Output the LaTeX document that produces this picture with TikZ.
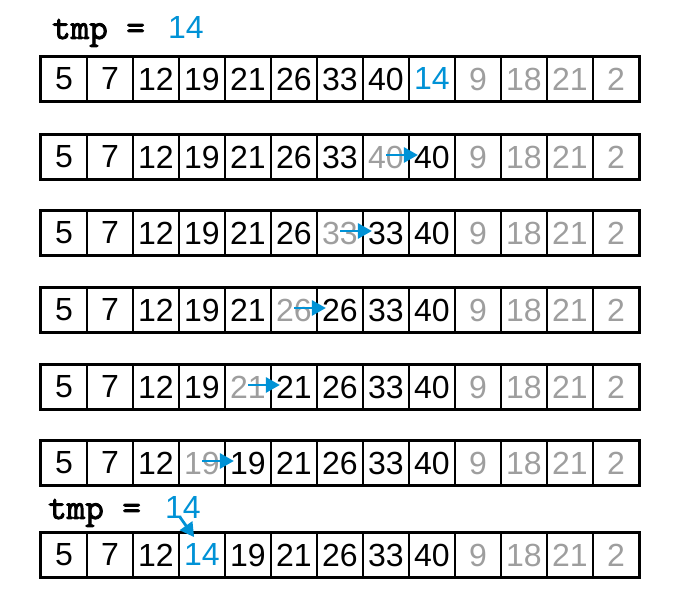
\documentclass[tikz,border=0pt]{standalone}
\usepackage{fontspec}
\setmainfont{Liberation Sans}
\newfontfamily\tmpfont[AutoFakeBold=2.5]{Latin Modern Mono}
\usetikzlibrary{arrows.meta}
\definecolor{tmpblue}{RGB}{0,146,214}
\definecolor{oldgray}{RGB}{158,158,158}
\tikzset{>={Triangle[length=14pt,width=15pt]}}
\tikzset{
  cell/.style={draw, line width=1.8pt, minimum width=46pt, minimum height=44pt,
    inner sep=0pt, font=\fontsize{32}{32}\selectfont},
  tmplabel/.style={anchor=base west, inner sep=0pt, font=\tmpfont\bfseries\fontsize{36}{36}\selectfont},
  tmpvalue/.style={anchor=base west, inner sep=0pt, text=tmpblue, font=\fontsize{32}{32}\selectfont},
  shift arrow/.style={->, tmpblue, line width=2.8pt}
}
\begin{document}
\begin{tikzpicture}[x=1pt,y=1pt]
\useasboundingbox (0,0) rectangle (681,609);
%tmp labels
\node[tmplabel] (tmp1) at (52,570) {tmp =};
\node[tmpvalue] (val1) at (168,570) {14};
\node[tmplabel] (tmp2) at (48,90) {tmp =};
\node[tmpvalue] (val2) at (165,90) {14};
%rows: row/y/gray cell/blue cell/values
\foreach \r/\y/\g/\b/\vals in {
    1/530/0/9/{5,7,12,19,21,26,33,40,14,9,18,21,2},
    2/452/8/0/{5,7,12,19,21,26,33,40,40,9,18,21,2},
    3/376/7/0/{5,7,12,19,21,26,33,33,40,9,18,21,2},
    4/299/6/0/{5,7,12,19,21,26,26,33,40,9,18,21,2},
    5/222/5/0/{5,7,12,19,21,21,26,33,40,9,18,21,2},
    6/146/4/0/{5,7,12,19,19,21,26,33,40,9,18,21,2},
    7/54/0/4/{5,7,12,14,19,21,26,33,40,9,18,21,2}} {
  \foreach \v [count=\i] in \vals {
    \ifnum\i>9 \def\col{oldgray}\else
      \ifnum\i=\g \def\col{oldgray}\else
        \ifnum\i=\b \def\col{tmpblue}\else \def\col{black}\fi\fi\fi
    \node[cell, text=\col] (r\r-\i) at (18+46*\i,\y) {\v};
  }
  \draw[line width=2.6pt] (r\r-1.north west) rectangle (r\r-13.south east);
}
%shifts
\foreach \r [evaluate=\r as \g using int(10-\r)] in {2,...,6}
  \draw[shift arrow] ([yshift=2pt]r\r-\g.center) -- ([shift={(8pt,2pt)}]r\r-\g.east);
%insert
\draw[shift arrow] ([shift={(15pt,2pt)}]val2.south west) -- ([shift={(16pt,-5pt)}]r7-4.north west);
\end{tikzpicture}
\end{document}
